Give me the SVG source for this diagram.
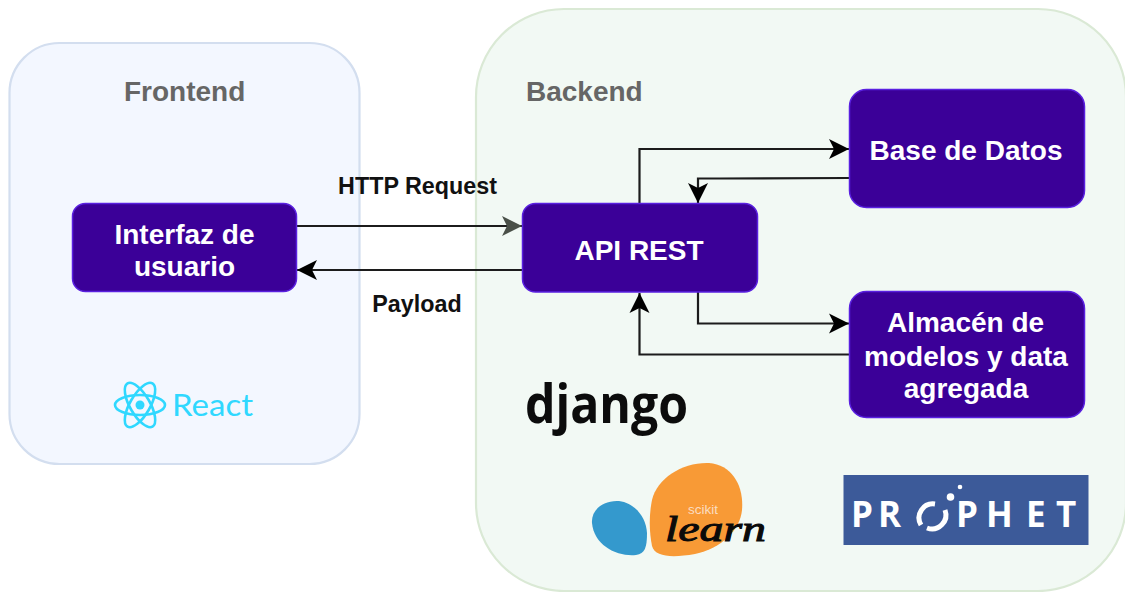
<svg xmlns="http://www.w3.org/2000/svg" width="1125" height="592" viewBox="0 0 1125 592">
<style>
.grp{stroke-width:2.200}
.title{font:bold 28px "Liberation Sans",Arial,sans-serif;fill:#666}
.node{fill:#3b0098;stroke:#5a20e0;stroke-width:1.500}
.nt{font:bold 28px "Liberation Sans",Arial,sans-serif;fill:#fff;text-anchor:middle}
.lbl{font:bold 23.300px "Liberation Sans",Arial,sans-serif;fill:#111;text-anchor:middle}
.c{fill:none;stroke:#1c1c1c;stroke-width:2.200}
.pt{font:700 35px "Open Sans","Liberation Sans",sans-serif;fill:#fff}
</style>
<defs>
<marker id="a" markerUnits="userSpaceOnUse" markerWidth="24" markerHeight="24" refX="20" refY="11" orient="auto"><path d="M0 1L20 11L0 21L5 11Z" fill="#000"/></marker>
<marker id="g" markerUnits="userSpaceOnUse" markerWidth="24" markerHeight="24" refX="20" refY="11" orient="auto"><path d="M0 1L20 11L0 21L5 11Z" fill="#4a5048"/></marker>
</defs>
<rect width="1125" height="592" fill="#fff"/>
<g id="frontend"><rect class="grp" x="9.500" y="43" width="350" height="421" rx="50" fill="#f3f7ff" stroke="#d3deef"/><text class="title" x="124" y="100.500">Frontend</text></g>
<g id="backend"><rect class="grp" x="476" y="9" width="650" height="582" rx="88" fill="#f2f9f4" stroke="#dae9d5"/><text class="title" x="526" y="100.500">Backend</text></g>
<g id="connectors">
<path class="c" d="M297 226H522" marker-end="url(#g)"/>
<path class="c" d="M522 270H297" marker-end="url(#a)"/>
<path class="c" d="M639.500 203V149H849" marker-end="url(#a)"/>
<path class="c" d="M849 178L720 178.500H698V203" marker-end="url(#a)"/>
<path class="c" d="M698 292V323.500H849" marker-end="url(#a)"/>
<path class="c" d="M849 354.500H639.500V293" marker-end="url(#a)"/>
</g>
<text class="lbl" x="417.500" y="193.500">HTTP Request</text>
<text class="lbl" x="417" y="311.500">Payload</text>
<g id="interfaz"><rect class="node" x="72.500" y="203.500" width="224" height="88" rx="13"/><text class="nt" x="184.500" y="243.500">Interfaz de</text><text class="nt" x="184.500" y="275.500">usuario</text></g>
<g id="api"><rect class="node" x="522.500" y="203.500" width="235" height="88.500" rx="13"/><text class="nt" x="639" y="259.500">API REST</text></g>
<g id="bd"><rect class="node" x="849.500" y="89.500" width="235" height="118" rx="17"/><text class="nt" x="966" y="159.500">Base de Datos</text></g>
<g id="almacen"><rect class="node" x="849.500" y="291.500" width="235" height="126" rx="17"/><text class="nt" x="965.500" y="331.500">Almacén de</text><text class="nt" x="966" y="365.500">modelos y data</text><text class="nt" x="966" y="397.500">agregada</text></g>
<g id="react" fill="none" stroke="#2fd8ff" stroke-width="2.600">
<ellipse cx="140" cy="405" rx="25" ry="10"/><ellipse cx="140" cy="405" rx="25" ry="10" transform="rotate(60 140 405)"/><ellipse cx="140" cy="405" rx="25" ry="10" transform="rotate(120 140 405)"/>
<circle cx="140" cy="405" r="4.500" fill="#2fd8ff" stroke="none"/>
<text x="172" y="415.500" stroke="none" fill="#2fd8ff" textLength="81" lengthAdjust="spacingAndGlyphs" style="font:400 31px Lato,'Liberation Sans',sans-serif">React</text>
</g>
<g id="django"><text x="525" y="423" fill="#0c0c0c" textLength="163" lengthAdjust="spacingAndGlyphs" style="font:bold 54px 'Open Sans','Liberation Sans',sans-serif">django</text></g>
<g id="sklearn">
<path d="M592 523C591 510 603 500 619 501C634 503 646 516 647 533C647 547 645 554 636 555C618 557 594 546 592 523Z" fill="#3499cd"/>
<path d="M652 500C657 478 683 462 709 463C733 465 744 487 742 510C740 530 722 548 695 554C672 558 655 557 652 546C649 530 649 515 652 500Z" fill="#f89a36"/>
<text x="688" y="514" fill="#fbdcc0" textLength="30" style="font:13.500px 'Liberation Sans',sans-serif">scikit</text>
<text x="665" y="541" fill="#0a0a0a" stroke="#0a0a0a" stroke-width="1" textLength="101" lengthAdjust="spacingAndGlyphs" style="font:italic 36px 'Liberation Serif',serif">learn</text>
</g>
<g id="prophet">
<rect x="843.500" y="475" width="245" height="70" fill="#3c5a99"/>
<text class="pt" x="851 878" y="527">PR</text>
<path d="M921 525A14 14 0 0 1 935 504" fill="none" stroke="#fff" stroke-width="5"/>
<path d="M945 510A14 14 0 0 1 927 528" fill="none" stroke="#fff" stroke-width="5"/>
<circle cx="950.500" cy="497" r="3.800" fill="#fff"/><circle cx="960" cy="487" r="2.300" fill="#fff"/>
<text class="pt" x="956 986 1026 1056" y="527">PHET</text>
</g>
</svg>
